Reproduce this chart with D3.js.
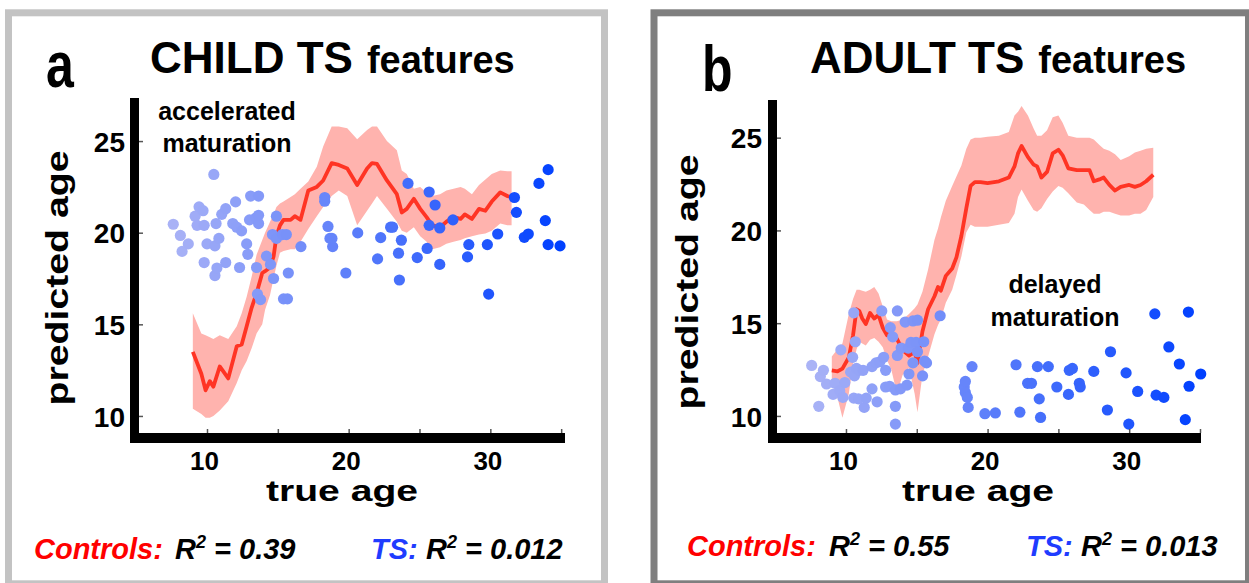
<!DOCTYPE html>
<html>
<head>
<meta charset="utf-8">
<script src="https://cdn.jsdelivr.net/npm/d3@7/dist/d3.min.js"></script>
<style>
  body { margin: 0; background: #fff; }
  svg { display: block; font-family: "Liberation Sans", Arial, sans-serif; }
</style>
</head>
<body>
<div id="chart"></div>
<script>
// ---- data ----
const xTicks = [10, 15, 20, 25, 30, 35];
const xTickLabels = ["10", "", "20", "", "30", ""];
const yTicks = [10, 15, 20, 25];

// panel a: controls, sliding-window mean with band
const ageA  = [9.0, 9.6, 9.9, 10.2, 10.45, 10.9, 11.5, 12.1, 12.45, 12.8, 13.15, 13.5, 13.9, 14.1, 14.45, 14.7, 14.9, 15.15, 15.4, 15.9, 16.2, 16.6, 17.15, 17.75, 18.2, 18.8, 19.3, 19.9, 20.6, 21.3, 21.65, 22.0, 22.7, 23.4, 23.75, 24.1, 24.6, 25.05, 25.5, 25.9, 26.45, 26.9, 27.4, 27.9, 28.2, 28.7, 29.2, 29.65, 30.1, 30.7, 31.2, 31.5];
const meanA = [13.5, 12.3, 11.4, 11.9, 11.6, 12.7, 12.05, 13.8, 13.9, 14.9, 15.9, 16.7, 17.8, 17.9, 18.1, 18.7, 19.8, 20.4, 20.7, 20.7, 20.9, 20.7, 22.3, 22.5, 22.85, 23.8, 23.7, 23.5, 22.6, 23.5, 23.8, 23.75, 22.85, 22.1, 21.1, 21.3, 21.85, 21.3, 20.85, 20.4, 20.3, 20.6, 20.85, 20.75, 21.0, 20.75, 21.3, 21.2, 21.7, 22.2, 22.0, 21.95];
const loA   = [10.4, 10.1, 9.9, 9.9, 10.0, 10.3, 10.8, 11.8, 12.5, 13.0, 13.7, 14.5, 15.0, 15.8, 16.6, 17.5, 18.2, 18.9, 19.0, 19.1, 19.1, 19.5, 20.2, 20.9, 21.4, 22.0, 22.3, 22.0, 20.4, 21.2, 21.6, 22.0, 21.3, 20.6, 20.1, 20.0, 20.3, 19.8, 19.5, 19.1, 19.2, 19.4, 19.5, 19.6, 19.7, 19.8, 19.9, 19.95, 20.1, 20.5, 20.4, 20.4];
const hiA   = [15.6, 14.5, 14.4, 14.3, 14.2, 14.4, 14.2, 14.9, 15.6, 16.5, 17.6, 18.8, 19.6, 20.0, 20.6, 21.0, 21.4, 21.6, 21.7, 21.95, 22.1, 22.4, 22.8, 23.6, 24.7, 25.8, 25.8, 25.7, 25.1, 25.6, 25.8, 25.8, 25.0, 24.5, 23.4, 23.2, 22.4, 22.5, 22.2, 22.0, 22.1, 22.3, 22.4, 22.5, 22.4, 22.1, 22.6, 22.9, 23.2, 23.4, 23.35, 23.35];

// panel a: TS subjects
const tsAgeA  = [7.62, 8.12, 8.24, 8.68, 9.16, 9.44, 9.72, 9.3, 9.8, 9.8, 10.0, 10.48, 10.56, 10.7, 10.64, 10.56, 10.84, 11.04, 11.32, 11.32, 11.82, 12.02, 12.1, 12.3, 12.44, 12.8, 12.88, 13.0, 13.08, 13.64, 13.44, 13.64, 13.64, 13.5, 13.56, 13.78, 14.2, 14.48, 14.62, 14.7, 14.9, 14.9, 15.32, 15.6, 15.74, 15.4, 15.68, 16.63, 18.31, 18.31, 18.54, 18.68, 18.87, 18.82, 19.8, 20.64, 22.04, 22.26, 22.96, 23.1, 23.52, 23.58, 23.72, 24.19, 24.84, 25.54, 25.68, 25.68, 26.1, 26.43, 26.43, 27.36, 28.39, 28.48, 29.79, 29.88, 30.52, 31.7, 31.84, 32.4, 32.68, 33.43, 33.88, 34.08, 34.08, 34.92];
const tsPredA = [20.46, 19.85, 18.98, 19.39, 20.9, 21.41, 21.2, 20.4, 20.4, 18.37, 19.39, 23.18, 17.66, 18.07, 20.5, 19.28, 19.69, 21.0, 21.31, 18.37, 20.5, 21.68, 20.3, 18.1, 20.1, 19.39, 18.82, 20.7, 22.0, 22.0, 20.8, 20.5, 20.95, 18.1, 16.65, 16.35, 18.72, 18.27, 19.9, 17.5, 20.9, 19.69, 19.9, 19.9, 17.8, 16.39, 16.39, 19.24, 21.92, 21.72, 20.34, 19.69, 19.24, 19.69, 17.8, 19.99, 18.57, 19.73, 20.3, 20.3, 18.88, 17.42, 19.59, 22.69, 18.64, 19.14, 22.22, 20.4, 21.51, 20.26, 18.27, 20.7, 18.68, 19.35, 19.35, 16.65, 19.93, 21.92, 21.11, 19.75, 19.93, 22.69, 20.66, 23.44, 19.35, 19.28];

// panel b: controls
const ageB  = [9.0, 9.4, 9.75, 10.2, 10.5, 10.75, 10.95, 11.15, 11.4, 11.7, 12.0, 12.3, 12.6, 12.9, 13.2, 13.6, 14.0, 14.45, 14.85, 15.05, 15.4, 15.8, 16.25, 16.5, 16.7, 17.05, 17.5, 17.8, 18.15, 18.5, 18.8, 19.1, 19.5, 20.0, 20.8, 21.5, 21.9, 22.15, 22.4, 22.85, 23.25, 23.5, 23.8, 24.2, 24.6, 25.0, 25.3, 25.7, 26.3, 26.8, 27.2, 27.5, 27.9, 28.2, 28.6, 29.0, 29.4, 30.0, 30.4, 30.8, 31.2, 31.7];
const meanB = [12.45, 12.4, 12.55, 13.15, 14.35, 15.75, 15.65, 15.25, 14.95, 15.55, 15.25, 15.45, 14.75, 14.35, 14.55, 14.15, 13.55, 13.25, 13.45, 12.85, 14.55, 15.75, 16.45, 16.95, 16.75, 17.55, 17.95, 18.55, 19.7, 21.2, 22.4, 22.6, 22.6, 22.55, 22.65, 22.85, 23.45, 24.15, 24.55, 23.95, 23.55, 23.45, 22.85, 23.15, 24.15, 24.35, 24.05, 23.35, 23.25, 23.25, 23.25, 22.65, 22.75, 22.85, 22.45, 22.15, 22.35, 22.45, 22.35, 22.45, 22.65, 23.0];
const loB   = [11.9, 11.0, 9.9, 11.2, 12.8, 13.6, 14.0, 13.9, 13.8, 14.1, 14.2, 14.0, 13.7, 13.0, 12.5, 11.2, 12.2, 12.6, 11.2, 10.2, 12.2, 13.2, 14.4, 14.9, 15.2, 16.1, 16.8, 17.6, 18.6, 19.9, 20.3, 20.2, 20.2, 20.2, 20.3, 20.4, 20.9, 21.8, 22.2, 21.6, 21.1, 21.0, 21.2, 21.7, 22.1, 22.4, 22.3, 22.0, 21.5, 21.4, 21.1, 20.9, 20.9, 21.0, 21.0, 20.9, 20.8, 20.8, 20.9, 20.9, 21.1, 21.8];
const hiB   = [13.2, 13.6, 13.9, 15.5, 16.3, 16.8, 16.8, 16.75, 16.7, 16.8, 16.95, 16.6, 15.9, 15.2, 15.1, 15.1, 15.2, 15.5, 15.8, 16.0, 16.7, 17.9, 19.5, 20.1, 20.7, 21.6, 22.4, 22.9, 23.5, 24.4, 24.9, 25.0, 25.0, 25.05, 25.1, 25.3, 26.2, 26.4, 26.7, 26.2, 25.5, 25.1, 25.1, 25.4, 26.1, 26.2, 25.8, 25.1, 25.0, 25.0, 25.0, 24.9, 24.6, 24.4, 24.3, 24.1, 23.8, 24.0, 24.2, 24.3, 24.4, 24.45];

// panel b: TS subjects
const tsAgeB  = [7.58, 8.08, 8.19, 8.41, 8.63, 9.09, 9.23, 9.64, 9.56, 9.78, 9.92, 10.33, 10.47, 10.55, 10.66, 10.6, 10.74, 10.93, 10.55, 10.88, 11.29, 11.21, 11.43, 11.84, 11.84, 12.2, 12.12, 12.39, 12.53, 12.66, 12.8, 12.8, 13.08, 13.13, 13.3, 13.49, 13.49, 13.63, 13.63, 13.49, 13.85, 13.9, 14.18, 14.31, 14.4, 14.45, 14.59, 14.73, 14.73, 14.95, 15.05, 15.05, 15.41, 15.49, 15.55, 15.69, 16.65, 18.35, 18.43, 18.43, 18.57, 18.63, 18.9, 19.81, 20.55, 22.01, 22.28, 22.83, 23.1, 23.52, 23.65, 23.74, 24.29, 24.89, 25.71, 25.77, 25.99, 26.48, 26.54, 27.5, 28.46, 28.68, 29.78, 29.97, 30.6, 31.9, 31.81, 32.45, 32.8, 33.54, 33.96, 34.18, 34.23, 35.05];
const tsPredB = [12.72, 10.52, 12.12, 12.46, 11.72, 11.16, 11.76, 13.56, 11.36, 11.0, 11.8, 12.36, 13.16, 15.56, 14.0, 12.16, 12.56, 12.46, 10.96, 10.92, 10.46, 12.46, 10.96, 11.46, 12.66, 10.76, 12.86, 12.92, 15.66, 13.16, 12.46, 11.56, 11.6, 14.76, 14.26, 11.4, 10.52, 15.66, 13.26, 9.56, 11.46, 13.66, 15.06, 11.66, 13.66, 12.26, 13.96, 15.12, 12.86, 13.96, 15.16, 13.46, 12.16, 14.0, 12.96, 12.86, 15.4, 11.56, 11.86, 11.26, 11.0, 10.46, 12.66, 10.12, 10.16, 12.76, 10.2, 11.76, 11.76, 12.66, 10.92, 9.92, 12.66, 11.56, 11.16, 12.46, 12.56, 11.76, 11.56, 12.4, 10.32, 13.46, 12.32, 9.56, 11.32, 11.12, 15.5, 11.0, 13.72, 12.8, 9.8, 15.6, 11.6, 12.26];

// ---- drawing ----
const W = 1249, H = 583;
const svg = d3.select("#chart").append("svg")
  .attr("width", W)
  .attr("height", H);

const dotColor = d3.scaleLinear()
  .domain([7.5, 35])
  .range(["#aab3f6", "#0040ff"])
  .interpolate(d3.interpolateRgb);

function drawPanel(p) {
  const g = svg.append("g");

  // frame
  g.append("rect")
    .attr("x", p.frame[0]).attr("y", 12.8)
    .attr("width", p.frame[1]).attr("height", 571)
    .attr("fill", "none")
    .attr("stroke", p.frameColor)
    .attr("stroke-width", 7);

  const x = d3.scaleLinear().domain(p.xDomain).range(p.xRange);
  const y = d3.scaleLinear().domain(p.yDomain).range(p.yRange);

  // confidence band
  const rows = p.age.map((a, i) => ({ a: a, m: p.mean[i], lo: p.lo[i], hi: p.hi[i] }));
  g.append("path")
    .datum(rows)
    .attr("fill", "#ffb3ae")
    .attr("d", d3.area().x(d => x(d.a)).y0(d => y(d.lo)).y1(d => y(d.hi)));

  // mean line
  g.append("path")
    .datum(rows)
    .attr("fill", "none")
    .attr("stroke", "#ff3424")
    .attr("stroke-width", 3.8)
    .attr("stroke-linejoin", "round")
    .attr("d", d3.line().x(d => x(d.a)).y(d => y(d.m)));

  // TS dots
  g.append("g")
    .selectAll("circle")
    .data(p.tsAge.map((a, i) => [a, p.tsPred[i]]))
    .enter()
    .append("circle")
    .attr("cx", d => x(d[0]))
    .attr("cy", d => y(d[1]))
    .attr("r", 5.6)
    .attr("fill", d => dotColor(d[0]));

  // thick axis bars
  const x0 = p.xRange[0], x1 = p.xRange[1];
  const yb = p.yRange[0], yt = p.yRange[1];
  g.append("rect").attr("x", x0 - 9).attr("y", yt).attr("width", 9).attr("height", yb - yt + 10).attr("fill", "#000");
  g.append("rect").attr("x", x0 - 9).attr("y", yb).attr("width", x1 - x0 + 10).attr("height", 10).attr("fill", "#000");

  // ticks + labels
  const xAxis = g.append("g")
    .attr("transform", `translate(0,${yb})`)
    .call(d3.axisBottom(x).tickValues(xTicks)
      .tickFormat((d, i) => xTickLabels[i])
      .tickSize(-4).tickSizeOuter(0).tickPadding(19));
  xAxis.select(".domain").remove();
  xAxis.selectAll("line").attr("stroke", "#555").attr("stroke-width", 1.5);
  xAxis.selectAll("text")
    .attr("font-family", "Liberation Sans, Arial, sans-serif")
    .attr("font-size", 26).attr("font-weight", "bold").attr("fill", "#000")
    .attr("dx", -3);

  const yAxis = g.append("g")
    .attr("transform", `translate(${x0},0)`)
    .call(d3.axisLeft(y).tickValues(yTicks)
      .tickSize(-4).tickSizeOuter(0).tickPadding(p.yPad));
  yAxis.select(".domain").remove();
  yAxis.selectAll("line").attr("stroke", "#555").attr("stroke-width", 1.5);
  yAxis.selectAll("text")
    .attr("font-family", "Liberation Sans, Arial, sans-serif")
    .attr("font-size", 28).attr("font-weight", "bold").attr("fill", "#000")
    .attr("dy", "0.36em");

  // axis titles
  g.append("text")
    .attr("transform", `translate(${p.yLabelX},${p.yLabelY}) rotate(-90)`)
    .attr("text-anchor", "middle")
    .attr("font-size", 32).attr("font-weight", "bold")
    .attr("textLength", 255).attr("lengthAdjust", "spacingAndGlyphs")
    .text("predicted age");

  g.append("text")
    .attr("x", p.xLabelX).attr("y", 501)
    .attr("text-anchor", "middle")
    .attr("font-size", 29).attr("font-weight", "bold")
    .attr("textLength", 152).attr("lengthAdjust", "spacingAndGlyphs")
    .text("true age");

  // panel letter
  g.append("text")
    .attr("transform", `translate(${p.letterX},${p.letterY}) scale(1,1.3)`)
    .attr("font-size", 50).attr("font-weight", "bold")
    .text(p.letter);

  // title
  const t = g.append("text")
    .attr("x", p.titleX).attr("y", 73)
    .attr("font-weight", "bold");
  t.append("tspan").attr("font-size", 44).text(p.title);
  t.append("tspan").attr("font-size", 38).attr("dx", 14).text("features");

  // annotation
  p.note.forEach((line, i) => {
    g.append("text")
      .attr("x", p.noteX).attr("y", p.noteY[i])
      .attr("text-anchor", "middle")
      .attr("font-size", 25).attr("font-weight", "bold")
      .text(line);
  });

  // R^2 legend
  function rsq(xc, xr, color, name, val) {
    const lt = g.append("text")
      .attr("y", p.legendY)
      .attr("font-size", 29).attr("font-weight", "bold").attr("font-style", "italic");
    lt.append("tspan").attr("x", xc).attr("fill", color).text(name);
    lt.append("tspan").attr("x", xr).attr("fill", "#000").text("R");
    lt.append("tspan").attr("font-size", 18).attr("dy", -11).text("2");
    lt.append("tspan").attr("dy", 11).attr("fill", "#000").text(" = " + val);
  }
  rsq(p.legendX[0], p.legendX[1], "#ff0000", "Controls:", p.r2[0]);
  rsq(p.legendX[2], p.legendX[3], "#1f3cff", "TS:", p.r2[1]);
}

drawPanel({
  frame: [8.5, 596], frameColor: "#c3c3c3",
  xDomain: [5.2, 35.2], xRange: [139, 564],
  yDomain: [9.07, 27.35], yRange: [433, 98],
  yPad: 14,
  age: ageA, mean: meanA, lo: loA, hi: hiA,
  tsAge: tsAgeA, tsPred: tsPredA,
  yLabelX: 68, yLabelY: 278, xLabelX: 342,
  letter: "a", letterX: 46, letterY: 87,
  title: "CHILD TS", titleX: 150,
  note: ["accelerated", "maturation"], noteX: 227, noteY: [120, 152],
  legendY: 559, legendX: [34, 175, 371, 426], r2: ["0.39", "0.012"]
});

drawPanel({
  frame: [654, 594.5], frameColor: "#7f7f7f",
  xDomain: [5.13, 35.0], xRange: [777, 1200],
  yDomain: [9.08, 27.03], yRange: [433, 100],
  yPad: 15,
  age: ageB, mean: meanB, lo: loB, hi: hiB,
  tsAge: tsAgeB, tsPred: tsPredB,
  yLabelX: 698, yLabelY: 282, xLabelX: 978,
  letter: "b", letterX: 702, letterY: 91,
  title: "ADULT TS", titleX: 810,
  note: ["delayed", "maturation"], noteX: 1055, noteY: [293, 326],
  legendY: 556, legendX: [687, 829, 1026, 1081], r2: ["0.55", "0.013"]
});
</script>
</body>
</html>
